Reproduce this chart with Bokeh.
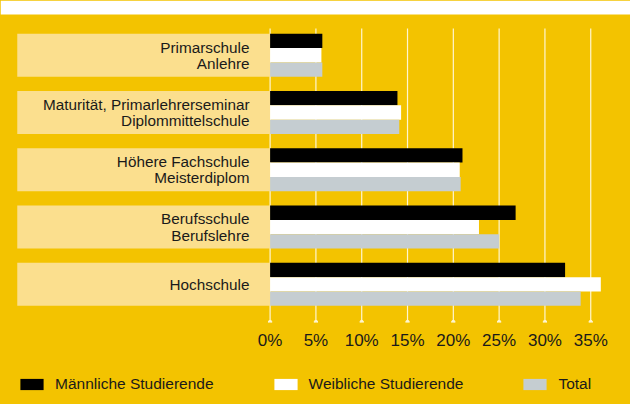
from bokeh.plotting import figure
from bokeh.layouts import column
from bokeh.models import (Range1d, FixedTicker, PrintfTickFormatter, Legend,
                          LegendItem, BoxAnnotation, ColumnDataSource)
from bokeh.core.properties import value
from bokeh.embed import file_html
from bokeh.resources import INLINE

# ---- data ----
CATEGORIES = [
    "Primarschule\nAnlehre",
    "Maturität, Primarlehrerseminar\nDiplommittelschule",
    "Höhere Fachschule\nMeisterdiplom",
    "Berufsschule\nBerufslehre",
    "Hochschule",
]
MALE = [5.7, 13.9, 21.0, 26.8, 32.2]
FEMALE = [5.6, 14.3, 20.7, 22.8, 36.1]
TOTAL = [5.7, 14.1, 20.8, 25.0, 33.9]
SERIES_NAMES = ["Männliche Studierende", "Weibliche Studierende", "Total"]
TICKS = [0, 5, 10, 15, 20, 25, 30, 35]

# ---- style ----
YELLOW = "#F3C300"
BAND = "#FBDF8E"
GREY = "#C5CDD1"
TEXT = "#1a1a1a"
FONT = "Liberation Sans"
BG_STYLE = {"background-color": YELLOW}

PITCH = 4          # units per group (3 bars + 1 gap)
X_START, X_END = -29.43, 39.34
Y_TOP, Y_BOTTOM = -2.327, 20.17
WHITE_BOTTOM = -1.349
BAND_LEFT = -27.6
LABEL_X = -2.25
GRID_TOP = -0.37

p = figure(width=630, height=358, output_backend="svg", toolbar_location=None,
           x_range=Range1d(X_START, X_END), y_range=Range1d(Y_BOTTOM, Y_TOP),
           y_axis_location=None, min_border_left=0, min_border_right=0,
           min_border_top=0, min_border_bottom=36, styles=BG_STYLE)
p.background_fill_color = YELLOW
p.border_fill_color = None
p.outline_line_color = None
p.xgrid.grid_line_color = None
p.ygrid.grid_line_color = None

# white strip at top
p.add_layout(BoxAnnotation(top=Y_TOP, bottom=WHITE_BOTTOM, fill_color="white",
                           fill_alpha=1, line_color=None))

n = len(CATEGORIES)
group_top = [PITCH * i for i in range(n)]

# grid lines
p.segment(x0=TICKS, x1=TICKS, y0=[GRID_TOP] * len(TICKS), y1=[Y_BOTTOM] * len(TICKS),
          line_color="#FFF6D0", line_width=1.2)
p.scatter(x=TICKS, y=[Y_BOTTOM - 0.03] * len(TICKS), size=3.5, color="#FFF6D0")

# label bands
p.quad(left=[BAND_LEFT] * n, right=[0] * n, top=group_top,
       bottom=[g + 3 for g in group_top], fill_color=BAND, line_color=None)

# bars
colors = ["black", "white", GREY]
sources = []
for j, (vals, c) in enumerate(zip([MALE, FEMALE, TOTAL], colors)):
    src = ColumnDataSource(dict(y=[g + j + 0.5 for g in group_top], right=vals))
    sources.append(src)
    p.hbar(y="y", right="right", left=0, height=1.0, source=src,
           fill_color=c, line_color=None)

# category labels
p.text(x=[LABEL_X] * n, y=[g + 1.5 for g in group_top], text=CATEGORIES,
       text_align="right", text_baseline="middle", text_font=value(FONT),
       text_font_size="15.3px", text_color=TEXT, text_line_height=0.96)

# axis
ax = p.xaxis[0]
ax.ticker = FixedTicker(ticks=TICKS)
ax.formatter = PrintfTickFormatter(format="%d%%")
ax.axis_line_color = None
ax.major_tick_line_color = None
ax.minor_tick_line_color = None
ax.major_tick_in = 0
ax.major_tick_out = 0
ax.major_label_standoff = 8
ax.major_label_text_font = FONT
ax.major_label_text_font_size = "17px"
ax.major_label_text_color = TEXT

# ---- legend strip (separate figure below the chart) ----
lp = figure(width=630, height=46, output_backend="svg", toolbar_location=None,
            x_range=Range1d(0, 1), y_range=Range1d(0, 1),
            x_axis_location=None, y_axis_location=None,
            min_border_left=0, min_border_right=0, min_border_top=0,
            min_border_bottom=0, styles=BG_STYLE)
lp.background_fill_color = YELLOW
lp.border_fill_color = None
lp.outline_line_color = None
lp.xgrid.grid_line_color = None
lp.ygrid.grid_line_color = None

legend_renderers = []
for src, c in zip(sources, colors):
    r = lp.hbar(y="y", right="right", left=0, height=1.0, source=src,
                fill_color=c, line_color=None, visible=False)
    legend_renderers.append(r)

legend = Legend(items=[LegendItem(label=nm, renderers=[r]) for nm, r in zip(SERIES_NAMES, legend_renderers)],
                orientation="horizontal", location=(17, 11), margin=0, padding=0,
                spacing=57, glyph_width=29, glyph_height=14, click_policy="none",
                label_standoff=9, label_text_font=FONT, label_text_font_size="15.5px",
                label_text_color=TEXT, background_fill_alpha=0, border_line_color=None)
lp.add_layout(legend)

layout = column(p, lp, spacing=0)
open("out.html", "w").write(file_html(layout, INLINE))
